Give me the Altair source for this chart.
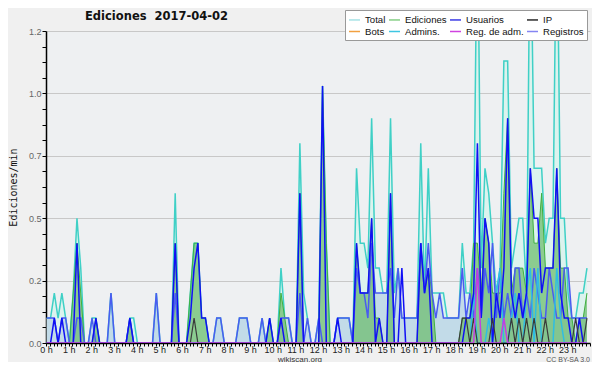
import altair as alt
import pandas as pd

SERIES = ["Total", "Ediciones", "Usuarios", "IP", "Bots", "Admins.", "Reg. de adm.", "Registros"]
LEGEND_COLORS = ["#a6e3e6", "#86cf86", "#3a3ae6", "#2a2a2a", "#f2a040", "#3ec6e2", "#d043e0", "#8585f2"]

TITLE = "Ediciones \u00a02017-04-02"
Y_TITLE = "Ediciones/min"
FOOTER = ["wikiscan.org", "CC BY-SA 3.0"]

# values in edits/min, one per 10-minute bin (6 per hour)
total = [
    0.1, 0.1, 0.2, 0.1, 0.2, 0.1,
    0, 0.2, 0.5, 0.3, 0, 0,
    0.1, 0.1, 0, 0, 0, 0.2,
    0, 0, 0, 0, 0.1, 0.1,
    0, 0, 0, 0, 0, 0.2,
    0, 0, 0, 0, 0.6, 0,
    0, 0, 0.2, 0.4, 0.4, 0.1,
    0.1, 0, 0, 0.1, 0.1, 0,
    0, 0, 0, 0.1, 0.1, 0.1,
    0, 0, 0, 0.1, 0, 0.1,
    0, 0, 0.3, 0.1, 0.1, 0,
    0, 0.8, 0.2, 0.1, 0, 0,
    0.1, 1.03, 0.4, 0, 0, 0.1,
    0.1, 0.1, 0.1, 0, 0.7, 0.4,
    0.4, 0.3, 0.9, 0.3, 0.3, 0.2,
    0.2, 0.9, 0.2, 0.3, 0.1, 0.1,
    0.1, 0.1, 0.1, 0.8, 0.2, 0.7,
    0.2, 0.2, 0.2, 0.2, 0.1, 0.1,
    0.1, 0.1, 0.4, 0.2, 0.2, 0.4,
    1.8, 0.3, 0.7, 0.6, 0.4, 0.2,
    0.3, 1.13, 1.13, 0.3, 0.4, 0.5,
    0.5, 0.2, 1.8, 0.7, 0.7, 0.7,
    0.4, 0.5, 0.5, 1.8, 0.5, 0.5,
    0.2, 0.1, 0.1, 0.2, 0.2, 0.3,
]
ediciones = [
    0, 0, 0, 0, 0, 0,
    0, 0.2, 0.4, 0.2, 0, 0,
    0, 0.1, 0, 0, 0, 0,
    0, 0, 0, 0, 0.1, 0,
    0, 0, 0, 0, 0, 0,
    0, 0, 0, 0, 0.4, 0,
    0, 0, 0.2, 0.4, 0.4, 0.1,
    0.1, 0, 0, 0, 0, 0,
    0, 0, 0, 0, 0, 0,
    0, 0, 0, 0, 0, 0.1,
    0, 0, 0.2, 0.1, 0, 0,
    0, 0.6, 0, 0, 0, 0,
    0, 1.03, 0.4, 0, 0, 0,
    0, 0, 0, 0, 0.4, 0.2,
    0.2, 0.2, 0.5, 0.1, 0.1, 0,
    0, 0.6, 0, 0, 0, 0,
    0, 0, 0, 0.4, 0.2, 0.3,
    0.2, 0, 0, 0, 0, 0,
    0, 0, 0.1, 0.1, 0.1, 0.4,
    0.4, 0.2, 0.5, 0.4, 0.2, 0.2,
    0.2, 0.6, 0.9, 0.2, 0.3, 0.3,
    0.3, 0.2, 0.7, 0.4, 0.4, 0.6,
    0.3, 0.3, 0.3, 0.7, 0.3, 0.3,
    0.1, 0.1, 0, 0.1, 0.1, 0.2,
]
usuarios = [
    0, 0, 0.1, 0, 0.1, 0,
    0, 0, 0.4, 0, 0, 0,
    0, 0.1, 0, 0, 0, 0,
    0, 0, 0, 0, 0.1, 0,
    0, 0, 0, 0, 0, 0,
    0, 0, 0, 0, 0.4, 0,
    0, 0, 0.1, 0.3, 0.4, 0.1,
    0.1, 0, 0, 0, 0, 0,
    0, 0, 0, 0, 0, 0,
    0, 0, 0, 0, 0, 0.1,
    0, 0, 0.1, 0, 0, 0,
    0, 0.6, 0, 0, 0, 0,
    0, 1.03, 0, 0, 0, 0.1,
    0, 0, 0, 0, 0.4, 0.2,
    0.2, 0.2, 0.5, 0, 0.1, 0,
    0, 0.6, 0, 0, 0.3, 0,
    0, 0, 0, 0.4, 0.2, 0.3,
    0, 0, 0, 0, 0, 0,
    0, 0, 0, 0.1, 0.1, 0.2,
    0.8, 0.1, 0.5, 0.4, 0, 0.2,
    0.1, 0.3, 0.9, 0.2, 0.1, 0.2,
    0.1, 0.2, 0.7, 0.5, 0.5, 0.2,
    0.3, 0.3, 0.3, 0.7, 0.2, 0.1,
    0.1, 0, 0, 0.1, 0, 0,
]
registros = [
    0.1, 0.1, 0.1, 0, 0.1, 0.1,
    0, 0, 0.1, 0.1, 0, 0,
    0.1, 0, 0, 0, 0, 0.2,
    0, 0, 0, 0, 0.1, 0,
    0, 0, 0, 0, 0, 0.2,
    0, 0, 0, 0, 0.2, 0,
    0, 0, 0, 0, 0, 0,
    0, 0, 0, 0.1, 0.1, 0,
    0, 0, 0, 0.1, 0.1, 0.1,
    0, 0, 0, 0.1, 0, 0,
    0, 0, 0.1, 0.1, 0.1, 0,
    0, 0.2, 0, 0.1, 0, 0,
    0.1, 0, 0, 0, 0, 0.1,
    0.1, 0.1, 0.1, 0, 0.3, 0.2,
    0.2, 0.1, 0.4, 0.2, 0.2, 0.2,
    0.2, 0.3, 0.1, 0.3, 0.1, 0.1,
    0.1, 0.1, 0.1, 0.4, 0.2, 0.4,
    0.2, 0.1, 0.2, 0.1, 0.1, 0.1,
    0.1, 0.1, 0.3, 0.1, 0.2, 0.1,
    0.3, 0.1, 0.3, 0.2, 0.4, 0.1,
    0.3, 0.1, 0.2, 0.1, 0.3, 0.3,
    0.1, 0.2, 0.1, 0.3, 0.2, 0.1,
    0.1, 0.3, 0.2, 0.1, 0.1, 0.3,
    0.3, 0.1, 0.1, 0.1, 0.1, 0.1,
]
ip = [
    0, 0, 0, 0, 0, 0,
    0, 0, 0, 0, 0, 0,
    0, 0, 0, 0, 0, 0,
    0, 0, 0, 0, 0, 0,
    0, 0, 0, 0, 0, 0,
    0, 0, 0, 0, 0, 0,
    0, 0, 0, 0.1, 0, 0,
    0, 0, 0, 0, 0, 0,
    0, 0, 0, 0, 0, 0,
    0, 0, 0, 0, 0, 0,
    0, 0, 0, 0, 0, 0,
    0, 0, 0, 0, 0, 0,
    0, 0, 0, 0, 0, 0,
    0, 0, 0, 0, 0, 0,
    0, 0, 0, 0, 0, 0,
    0, 0, 0, 0, 0, 0,
    0, 0, 0, 0, 0, 0,
    0, 0, 0, 0, 0, 0,
    0, 0, 0.1, 0.1, 0, 0.1,
    0, 0, 0, 0, 0.1, 0,
    0, 0, 0, 0.1, 0, 0.1,
    0, 0.1, 0, 0.1, 0, 0,
    0.1, 0, 0, 0, 0, 0,
    0, 0, 0.1, 0, 0, 0.1,
]
admins = [
    0, 0, 0, 0, 0, 0,
    0, 0, 0, 0, 0, 0,
    0, 0, 0, 0, 0, 0,
    0, 0, 0, 0, 0, 0,
    0, 0, 0, 0, 0, 0,
    0, 0, 0, 0, 0, 0,
    0, 0, 0, 0, 0, 0,
    0, 0, 0, 0, 0, 0,
    0, 0, 0, 0, 0, 0,
    0, 0, 0, 0, 0, 0,
    0, 0, 0, 0, 0, 0,
    0, 0, 0, 0, 0, 0,
    0, 0, 0, 0, 0, 0,
    0, 0, 0, 0, 0, 0,
    0, 0, 0, 0, 0, 0,
    0, 0, 0, 0, 0, 0,
    0, 0, 0, 0, 0, 0,
    0, 0, 0, 0, 0, 0,
    0, 0, 0, 0, 0, 0.2,
    0, 0, 0, 0.1, 0, 0.2,
    0.3, 0, 0, 0.1, 0.2, 0,
    0, 0.2, 0.3, 0, 0.3, 0,
    0, 0, 0, 0.3, 0.1, 0,
    0, 0, 0, 0, 0, 0,
]
reg_adm = [
    0, 0, 0, 0, 0, 0,
    0, 0, 0, 0, 0, 0,
    0, 0, 0, 0, 0, 0,
    0, 0, 0, 0, 0, 0,
    0, 0, 0, 0, 0, 0,
    0, 0, 0, 0, 0, 0,
    0, 0, 0, 0, 0, 0,
    0, 0, 0, 0, 0, 0,
    0, 0, 0, 0, 0, 0,
    0, 0, 0, 0, 0, 0,
    0, 0, 0, 0, 0, 0,
    0, 0, 0, 0, 0, 0,
    0, 0, 0, 0, 0, 0,
    0, 0, 0, 0, 0, 0,
    0, 0, 0, 0, 0, 0,
    0, 0, 0, 0, 0, 0,
    0, 0, 0, 0, 0, 0,
    0, 0, 0, 0, 0, 0,
    0, 0, 0, 0, 0, 0,
    0.3, 0, 0, 0, 0, 0,
    0, 0.1, 0, 0, 0, 0,
    0, 0, 0, 0, 0, 0,
    0, 0, 0, 0, 0, 0,
    0, 0, 0, 0, 0, 0,
]

minutes = [i * 10 + 2 for i in range(len(total))]

df = pd.DataFrame({
    "m": minutes, "total": total, "ediciones": ediciones, "usuarios": usuarios,
    "registros": registros, "ip": ip, "admins": admins, "reg_adm": reg_adm,
})

x_ticks = list(range(0, 1441, 10))
y_ticks = [k * 0.0625 for k in range(21)]

x_axis = alt.Axis(
    values=x_ticks, title=None,
    labelExpr="(datum.value % 60 === 0 && datum.value < 1440) ? (datum.value / 60) + ' h' : ''",
    labelOverlap=False, labelFlush=False, labelFont="Liberation Sans", labelFontSize=9,
    labelColor="#222", labelPadding=-1, grid=False,
    domainColor="#000", domainWidth=1.5, tickColor="#000", tickWidth=1, tickSize=3,
)
y_axis = alt.Axis(
    values=y_ticks, title=Y_TITLE,
    labelExpr="(datum.value % 0.25 === 0) ? format(floor(datum.value * 10 + 1e-9) / 10, '.1f') : ''",
    labelOverlap=False, labelFont="Liberation Sans", labelFontSize=9, labelColor="#666",
    labelPadding=1, domainColor="#000", domainWidth=1.5, tickColor="#000", tickWidth=1, tickSize=4,
    grid=True, gridColor="#c8c8c8", gridWidth=1,
    gridOpacity={"condition": {"test": "datum.value % 0.25 !== 0", "value": 0}, "value": 1},
    titleFont="DejaVu Sans Mono", titleFontSize=10, titleFontWeight="normal", titleColor="#111",
    titleX=-33, titleY=156, titleAngle=270, titleAlign="center", titleBaseline="middle",
)

X = alt.X("m:Q", scale=alt.Scale(domain=[0, 1440], nice=False, zero=False), axis=x_axis)


def Y(field):
    return alt.Y(f"{field}:Q", scale=alt.Scale(domain=[0, 1.25], nice=False), axis=y_axis)


base = alt.Chart(df)

area_total = base.mark_area(color="#dcf3ee", clip=True).encode(x=X, y=Y("total"))
area_reg = base.mark_area(color="#c2dbe8", clip=True).encode(x=X, y=Y("registros"))
area_ed = base.mark_area(color="#6cbd6c", opacity=0.72, clip=True).encode(x=X, y=Y("ediciones"))

line_total = base.mark_line(color="#3fd0c6", strokeWidth=1.5, clip=True).encode(x=X, y=Y("total"))
line_ed = base.mark_line(color="#3fb03f", strokeWidth=1, clip=True).encode(x=X, y=Y("ediciones"))
line_reg = base.mark_line(color="#4a5cf0", strokeWidth=1.5, clip=True).encode(x=X, y=Y("registros"))
line_adm = base.mark_line(color="#2fbde3", strokeWidth=1.5, clip=True).encode(x=X, y=Y("admins"))
line_usr = base.mark_line(color="#1010f5", strokeWidth=1.5, clip=True).encode(x=X, y=Y("usuarios"))
line_ip = base.mark_line(color="#3a3a3a", strokeWidth=1.2, clip=True).encode(x=X, y=Y("ip"))
line_ra = base.mark_line(color="#c43ee0", strokeWidth=1.5, clip=True).encode(x=X, y=Y("reg_adm"))

legend_df = pd.DataFrame({"s": SERIES * 2, "m": [0] * 8 + [10] * 8, "v": [5.0] * 16})
legend_layer = alt.Chart(legend_df).mark_line(clip=True).encode(
    x=X,
    y=alt.Y("v:Q", scale=alt.Scale(domain=[0, 1.25], nice=False), axis=y_axis),
    color=alt.Color(
        "s:N", sort=SERIES,
        scale=alt.Scale(domain=SERIES, range=LEGEND_COLORS),
        legend=alt.Legend(
            orient="none", legendX=299, legendY=-21, columns=4, direction="horizontal",
            gridAlign="each", title=None,
            symbolType="stroke", symbolSize=121, symbolStrokeWidth=1.5, symbolOpacity=1,
            labelFont="Liberation Sans", labelFontSize=9.6, labelColor="#111", labelOffset=4,
            columnPadding=0, rowPadding=-1, padding=3, fillColor="#ffffff", strokeColor="#999999",
        ),
    ),
)

title_layer = alt.Chart(pd.DataFrame({"t": [TITLE]})).mark_text(
    font="DejaVu Sans", fontSize=11.5, fontWeight="bold", color="#111",
    align="left", baseline="middle",
).encode(text="t:N", x=alt.value(39), y=alt.value(-14))

footer1 = alt.Chart(pd.DataFrame({"t": [FOOTER[0]]})).mark_text(
    font="Liberation Sans", fontSize=8, color="#333", align="center", baseline="middle"
).encode(text="t:N", x=alt.value(254), y=alt.value(328.5))
footer2 = alt.Chart(pd.DataFrame({"t": [FOOTER[1]]})).mark_text(
    font="Liberation Sans", fontSize=7, color="#555", align="right", baseline="middle"
).encode(text="t:N", x=alt.value(544), y=alt.value(329))

chart = alt.layer(
    area_total, area_reg, area_ed,
    line_total, line_ed, line_reg, line_adm, line_usr, line_ip, line_ra,
    legend_layer, title_layer, footer1, footer2,
).properties(
    width=544, height=312,
    padding={"left": 38, "top": 23, "right": 2, "bottom": 19},
    autosize=alt.AutoSizeParams(type="none"),
    background="#f0f0f0",
).configure_view(fill="#eef0f2", stroke=None)

chart.save("out.html", embed_options={"renderer": "svg", "actions": False})
